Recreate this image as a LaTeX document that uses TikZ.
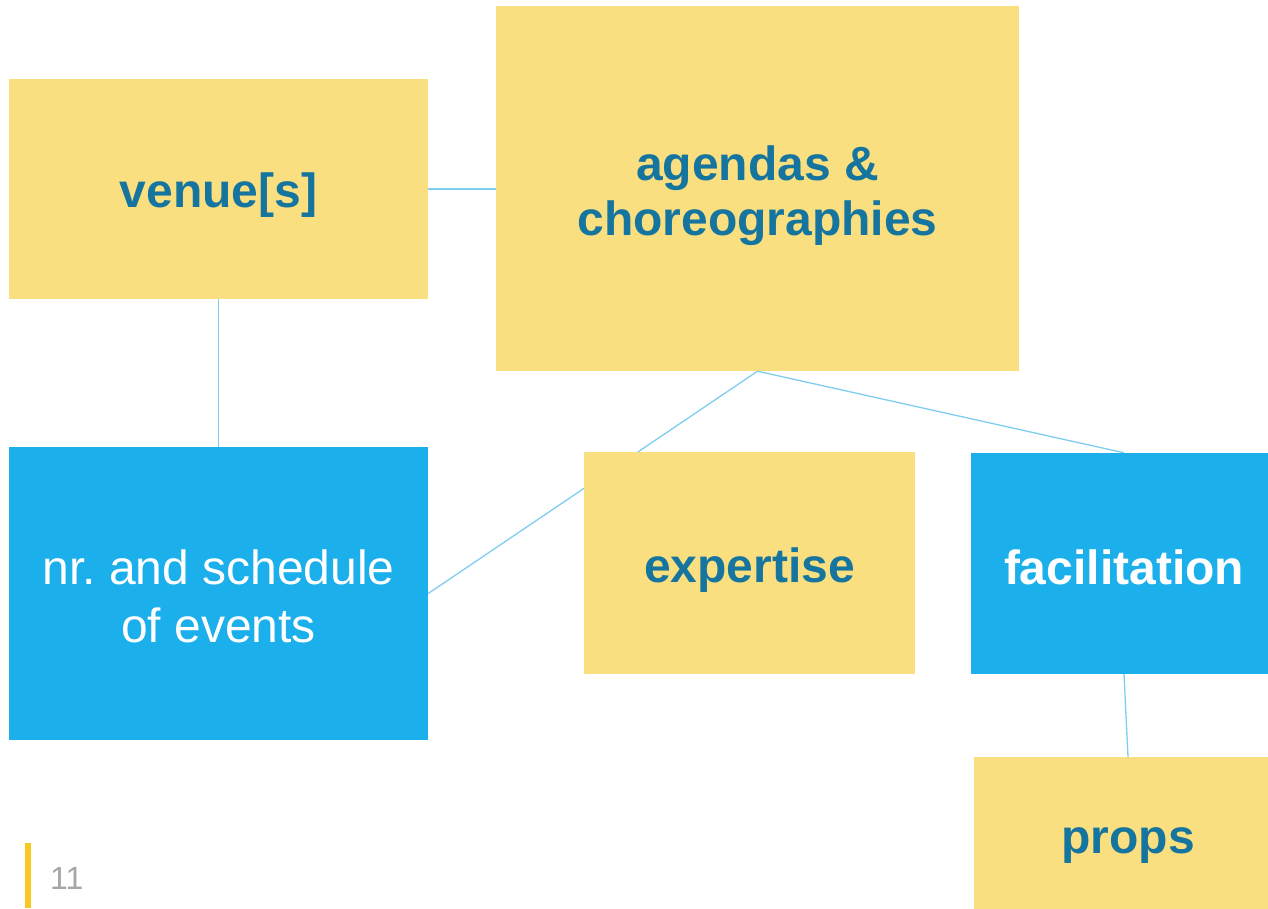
\documentclass[tikz,border=0pt]{standalone}
\usepackage{fontspec}
\setmainfont{Liberation Sans}
\usetikzlibrary{backgrounds}
\definecolor{boxyellow}{HTML}{F9DF80}
\definecolor{boxblue}{HTML}{1BAFEB}
\definecolor{textblue}{HTML}{16759F}
\definecolor{linkblue}{HTML}{7FCDEF}
\definecolor{pagegray}{HTML}{A6A6A6}
\definecolor{baryellow}{HTML}{F8C922}
\tikzset{
  ybox/.style={fill=boxyellow, draw=none, inner sep=0pt},
  bbox/.style={fill=boxblue, draw=none, inner sep=0pt},
  ytext/.style={inner sep=0pt, align=center, text=textblue,
    font=\fontsize{48}{55}\selectfont\bfseries},
  btext/.style={inner sep=0pt, align=center, text=white,
    font=\fontsize{48}{58}\selectfont},
  link/.style={draw=linkblue, line width=1.3pt},
}
\frenchspacing
\begin{document}
\begin{tikzpicture}[x=1pt,y=-1pt]
\useasboundingbox (0,0) rectangle (1268,908);
\clip (0,0) rectangle (1268,908);
\node[ybox, minimum width=419pt, minimum height=220pt] (venue) at (218.5,189) {};
\node[ybox, minimum width=523pt, minimum height=365pt] (agenda) at (757.5,188.5) {};
\node[bbox, minimum width=419pt, minimum height=293pt] (nr) at (218.5,593.5) {};
\node[ybox, minimum width=331pt, minimum height=222pt] (exp) at (749.5,563) {};
\node[bbox, minimum width=306pt, minimum height=221pt] (fac) at (1124,563.5) {};
\node[ybox, minimum width=308pt, minimum height=162pt] (props) at (1128,838) {};
\node[ytext] (venuet) at ([yshift=-6pt]venue.center) {venue[s]};
\node[ytext] (agendat) at ([yshift=-7pt]agenda.center) {agendas \&\\choreographies};
\node[btext] (nrt) at ([yshift=-3pt]nr.center) {nr. and schedule\\of events};
\node[ytext] (expt) at ([yshift=-7pt]exp.center) {expertise};
\node[btext, font=\fontsize{48}{55}\selectfont\bfseries] (fact) at ([yshift=-4pt]fac.center) {facilitation};
\node[ytext] (propst) at ([yshift=-8pt]props.center) {props};
\node[text=pagegray, font=\fontsize{32}{36}\selectfont, anchor=west, inner sep=0pt] (pnum) at (50,878) {11};
\fill[baryellow] (25,843) rectangle (31,908);
\begin{scope}[on background layer]
\draw[link] (venue.east) -- (agenda.west |- venue.east);
\draw[link] (venue.south) -- (nr.north);
\draw[link] (agenda.south) -- (nr.east);
\draw[link] (agenda.south) -- (fac.north);
\draw[link] (fac.south) -- (props.north);
\end{scope}
\end{tikzpicture}
\end{document}
